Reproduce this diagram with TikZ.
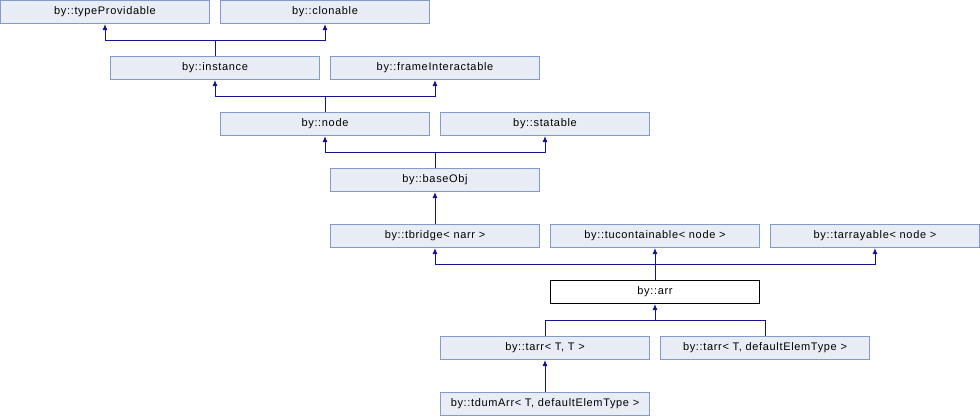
\documentclass[tikz,border=0pt]{standalone}
\usepackage{fontspec}
\setmainfont[LetterSpace=6]{Liberation Sans}
\usepackage{tikz}
\usetikzlibrary{arrows.meta}
\usepackage{xcolor}
\definecolor{clsfill}{RGB}{232,236,244}
\definecolor{clsline}{RGB}{132,154,204}
\definecolor{inhline}{RGB}{20,20,140}

\begin{document}
\begin{tikzpicture}[x=1pt,y=-1pt,
  cls/.style={draw=clsline,fill=clsfill,line width=1pt,minimum width=209pt,minimum height=23pt,inner sep=0pt,font=\fontsize{11}{12}\selectfont},
  cur/.style={cls,draw=black,fill=white},
  inh/.style={draw=inhline,line width=1pt,-{Latex[length=6pt,width=5pt]}},
  inhjoin/.style={draw=inhline,line width=1pt}]
  \useasboundingbox (0,0) rectangle (980,416);
  \node[cls] (typeProv) at (105,12) {by::typeProvidable};
  \node[cls] (clonable) at (325,12) {by::clonable};
  \node[cls] (instance) at (215,68) {by::instance};
  \node[cls] (frameInter) at (435,68) {by::frameInteractable};
  \node[cls] (nodeCls) at (325,124) {by::node};
  \node[cls] (statable) at (545,124) {by::statable};
  \node[cls] (baseObj) at (435,180) {by::baseObj};
  \node[cls] (tbridge) at (435,236) {by::tbridge< narr >};
  \node[cls] (tucont) at (655,236) {by::tucontainable< node >};
  \node[cls] (tarray) at (875,236) {by::tarrayable< node >};
  \node[cur] (arr) at (655,292) {by::arr};
  \node[cls] (tarrTT) at (545,348) {by::tarr< T, T >};
  \node[cls] (tarrTD) at (765,348) {by::tarr< T, defaultElemType >};
  \node[cls] (tdumArr) at (545,404) {by::tdumArr< T, defaultElemType >};

  \coordinate (jInstance) at (215,40);
  \coordinate (jNode) at (325,96);
  \coordinate (jBaseObj) at (435,152);
  \coordinate (jArr) at (655,264);
  \coordinate (jTarr) at (655,320);

  \draw[inhjoin] (instance.north) -- (jInstance);
  \draw[inh] (jInstance) -| (typeProv.south);
  \draw[inh] (jInstance) -| (clonable.south);
  \draw[inhjoin] (nodeCls.north) -- (jNode);
  \draw[inh] (jNode) -| (instance.south);
  \draw[inh] (jNode) -| (frameInter.south);
  \draw[inhjoin] (baseObj.north) -- (jBaseObj);
  \draw[inh] (jBaseObj) -| (nodeCls.south);
  \draw[inh] (jBaseObj) -| (statable.south);
  \draw[inh] (tbridge.north) -- (baseObj.south);
  \draw[inhjoin] (arr.north) -- (jArr);
  \draw[inh] (jArr) -| (tbridge.south);
  \draw[inh] (jArr) -- (tucont.south);
  \draw[inh] (jArr) -| (tarray.south);
  \draw[inhjoin] (tarrTT.north) |- (jTarr);
  \draw[inhjoin] (tarrTD.north) |- (jTarr);
  \draw[inh] (jTarr) -- (arr.south);
  \draw[inh] (tdumArr.north) -- (tarrTT.south);
\end{tikzpicture}
\end{document}
